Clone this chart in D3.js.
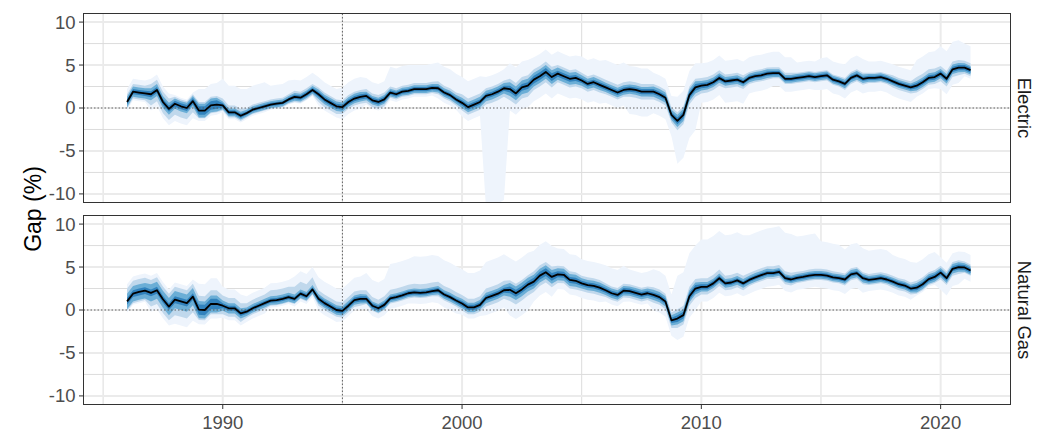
<!DOCTYPE html>
<html>
<head>
<meta charset="utf-8">
<script src="https://cdnjs.cloudflare.com/ajax/libs/d3/7.8.5/d3.min.js"></script>
<style>
  body { margin: 0; background: #fff; }
  text { font-family: "Liberation Sans", Arial, Helvetica, sans-serif; }
</style>
</head>
<body>
<div id="chart"></div>
<script>
// quarterly medians, first value is 1986 Q1
var startYear = 1986;
var stepYear = 0.25;

var electricMedian = [
  0.7, 1.9, 1.8, 1.7,   1.6, 2.1, 0.7, -0.1,  0.5, 0.2, 0.0, 0.8,   -0.3, -0.3, 0.3, 0.4,
  0.3, -0.5, -0.5, -0.9, -0.6, -0.2, 0.0, 0.2, 0.4, 0.5, 0.6, 1.0,   1.3, 1.2, 1.6, 2.1,
  1.6, 1.0, 0.6, 0.2,   0.1, 0.7, 1.1, 1.3,   1.4, 0.9, 0.7, 1.0,   1.8, 1.6, 1.9, 2.0,
  2.2, 2.2, 2.2, 2.35,  2.3, 1.8, 1.5, 1.0,   0.6, 0.1, 0.4, 0.7,   1.4, 1.6, 1.9, 2.3,
  2.2, 1.7, 2.4, 2.6,   3.3, 3.7, 4.2, 3.6,   4.0, 3.7, 3.4, 3.5,   3.2, 2.8, 3.0, 2.7,
  2.4, 2.1, 1.8, 2.1,   2.2, 2.1, 1.9, 1.9,   1.9, 1.6, 1.2, -0.8,  -1.5, -0.8, 1.5, 2.4,
  2.6, 2.7, 3.0, 3.5,   3.1, 3.2, 3.3, 3.0,   3.5, 3.7, 3.8, 4.0,   4.05, 4.05, 3.4, 3.4,
  3.5, 3.6, 3.7, 3.6,   3.7, 3.8, 3.3, 3.1,   2.8, 3.5, 3.8, 3.4,   3.5, 3.5, 3.6, 3.4,
  3.1, 2.8, 2.6, 2.4,   2.6, 3.0, 3.5, 3.6,   4.0, 3.4, 4.5, 4.7,   4.7, 4.4
];
var gasMedian = [
  1.0, 1.9, 2.1, 2.25,  2.0, 2.3, 1.25, 0.4,  1.2, 1.0, 0.8, 1.55,  0.05, 0.0, 0.7, 0.7,
  0.5, 0.2, 0.2, -0.4,  -0.2, 0.2, 0.5, 0.8,  1.1, 1.15, 1.3, 1.5,  1.3, 1.9, 1.6, 2.4,
  1.3, 0.8, 0.4, 0.0,   -0.1, 0.5, 1.15, 1.3, 1.3, 0.5, 0.2, 0.6,   1.35, 1.5, 1.7, 1.95,
  2.05, 2.0, 2.05, 2.2, 2.3, 1.8, 1.5, 1.1,   0.75, 0.3, 0.3, 0.6,  1.4, 1.65, 1.9, 2.3,
  2.35, 1.95, 2.4, 2.95, 3.3, 4.0, 4.4, 3.85, 4.15, 4.1, 3.5, 3.4,  3.1, 2.9, 2.8, 2.6,
  2.3, 1.95, 1.75, 2.25, 2.2, 2.0, 1.8, 1.95, 1.75, 1.5, 1.0, -1.2, -1.0, -0.6, 1.6, 2.5,
  2.7, 2.7, 3.1, 3.7,   3.1, 3.2, 3.45, 3.1,  3.5, 3.8, 4.05, 4.3,  4.3, 4.45, 3.7, 3.55,
  3.75, 3.85, 4.0, 4.1, 4.1, 4.0, 3.8, 3.7,   3.55, 4.15, 4.3, 3.7, 3.5, 3.6, 3.7, 3.55,
  3.3, 3.0, 2.85, 2.5,  2.6, 3.0, 3.6, 3.85,  4.35, 3.7, 4.8, 5.0,  4.95, 4.6
];

// interval offsets from the median, one value per year 1986..2021
var electricHalf50 = [0.3, 0.35, 0.35, 0.5, 0.25, 0.2, 0.2, 0.25, 0.3, 0.3, 0.3, 0.25, 0.25, 0.25, 0.3, 0.3, 0.4, 0.45,
  0.35, 0.3, 0.3, 0.3, 0.3, 0.4, 0.3, 0.25, 0.25, 0.25, 0.25, 0.25, 0.25, 0.25, 0.25, 0.3, 0.3, 0.3];
var electricHalf80 = [0.6, 0.7, 0.6, 0.8, 0.45, 0.4, 0.4, 0.45, 0.55, 0.55, 0.5, 0.45, 0.45, 0.5, 0.6, 0.6, 0.8, 0.8,
  0.7, 0.6, 0.55, 0.55, 0.6, 0.7, 0.55, 0.5, 0.5, 0.45, 0.45, 0.45, 0.5, 0.45, 0.45, 0.55, 0.55, 0.5];
var electricLo95 = [-0.8, -1.3, -1.3, -0.9, -0.6, -0.5, -0.5, -0.6, -0.9, -0.8, -0.8, -0.6, -0.6, -0.7, -0.9, -1.0, -1.3, -1.2,
  -1.0, -0.9, -0.8, -0.9, -0.9, -1.1, -0.9, -0.8, -0.7, -0.6, -0.6, -0.6, -0.7, -0.6, -0.7, -0.8, -0.9, -0.7];
var electricHi95 = [0.9, 1.2, 0.8, 1.0, 0.8, 0.6, 0.6, 0.7, 0.8, 0.8, 0.8, 0.7, 0.7, 0.8, 1.0, 0.9, 1.2, 1.2,
  1.0, 0.9, 0.9, 0.9, 0.9, 1.0, 0.9, 0.8, 0.7, 0.7, 0.6, 0.6, 0.7, 0.6, 0.7, 1.0, 0.9, 0.8];
var electricLo99 = [-1.0, -1.9, -2.0, -1.2, -0.8, -0.7, -0.6, -0.7, -1.3, -1.4, -1.0, -0.9, -0.9, -1.2, -1.6, -13, -2.5, -2.5,
  -2.3, -2.2, -1.8, -2.9, -2.5, -5.0, -2.0, -2.5, -1.8, -1.5, -1.5, -1.6, -1.7, -1.6, -1.7, -1.3, -1.8, -1.0];
var electricHi99 = [1.5, 1.8, 1.0, 2.5, 3.1, 2.8, 2.2, 2.0, 2.0, 2.3, 2.1, 3.0, 2.8, 3.0, 3.0, 2.2, 3.0, 2.6,
  2.6, 2.8, 3.2, 2.7, 2.2, 2.8, 2.6, 2.4, 2.4, 2.5, 1.8, 2.1, 2.3, 1.9, 2.0, 3.0, 3.2, 2.8];

var gasHalf50 = [0.4, 0.4, 0.4, 0.6, 0.3, 0.25, 0.25, 0.25, 0.3, 0.3, 0.3, 0.25, 0.25, 0.25, 0.3, 0.3, 0.4, 0.45,
  0.35, 0.3, 0.3, 0.3, 0.3, 0.4, 0.3, 0.25, 0.25, 0.25, 0.25, 0.25, 0.25, 0.25, 0.25, 0.3, 0.3, 0.3];
var gasHalf80 = [0.9, 1.0, 1.0, 1.0, 0.6, 0.5, 0.5, 0.5, 0.55, 0.55, 0.5, 0.45, 0.45, 0.5, 0.55, 0.6, 0.8, 0.8,
  0.7, 0.6, 0.55, 0.55, 0.6, 0.7, 0.55, 0.5, 0.5, 0.45, 0.45, 0.45, 0.5, 0.45, 0.45, 0.55, 0.55, 0.5];
var gasLo95 = [-1.1, -1.6, -1.8, -1.2, -1.0, -0.7, -0.6, -0.6, -0.8, -0.8, -0.6, -0.6, -0.6, -0.7, -0.8, -1.0, -1.3, -1.2,
  -1.0, -0.9, -0.8, -0.8, -0.9, -1.1, -0.9, -0.8, -0.7, -0.7, -0.6, -0.6, -0.7, -0.6, -0.7, -0.7, -0.8, -0.6];
var gasHi95 = [1.5, 1.5, 1.5, 1.6, 1.2, 1.0, 1.2, 1.4, 1.0, 1.0, 1.0, 1.0, 1.0, 1.0, 1.0, 1.1, 1.1, 1.2,
  1.0, 0.9, 0.8, 0.8, 0.9, 1.1, 1.0, 0.9, 0.8, 0.8, 0.7, 0.7, 0.7, 0.7, 0.7, 0.8, 0.8, 0.7];
var gasLo99 = [-1.3, -2.2, -2.8, -1.7, -1.4, -1.2, -0.8, -0.9, -1.4, -1.2, -1.2, -1.2, -1.3, -1.5, -1.3, -2.0, -3.0, -2.3,
  -1.7, -1.7, -1.3, -1.2, -1.8, -2.5, -1.7, -1.5, -1.6, -1.5, -1.4, -1.5, -1.7, -1.3, -1.3, -0.9, -2.0, -1.3];
var gasHi99 = [2.0, 2.0, 2.0, 3.0, 2.2, 1.8, 2.0, 2.6, 2.5, 2.6, 3.0, 4.0, 4.2, 4.0, 4.0, 4.2, 3.7, 3.6,
  3.0, 2.8, 2.9, 2.5, 3.0, 5.0, 5.5, 5.6, 5.2, 5.3, 4.8, 3.9, 3.5, 3.4, 3.1, 2.9, 1.8, 1.8];

var panelNames = ['Electric', 'Natural Gas'];
var yTicks = [-10, -5, 0, 5, 10];
var yMinorTicks = [-7.5, -2.5, 2.5, 7.5];
var xTicks = [1990, 2000, 2010, 2020];
var xMinorTicks = [1985, 1995, 2005, 2015];
var markerYear = 1995;

var config = {
    width: 1039,
    height: 435,
    left: 83.5,
    right: 1010.5,
    panelTops: [13.5, 215.5],
    panelHeight: 189,
    xDomain: [1984.18, 2022.92],
    yDomain: [-11, 11],
    bandColors: { b99: '#eef4fc', b95: '#c0d8ec', b80: '#6baed6', b50: '#3182bd' },
    textGrey: '#4d4d4d'
};

var panels = [
    { name: panelNames[0], median: electricMedian, w50: electricHalf50, w80: electricHalf80,
      lo95: electricLo95, hi95: electricHi95, lo99: electricLo99, hi99: electricHi99 },
    { name: panelNames[1], median: gasMedian, w50: gasHalf50, w80: gasHalf80,
      lo95: gasLo95, hi95: gasHi95, lo99: gasLo99, hi99: gasHi99 }
];

var buildRows = function(p) {
    return p.median.map(function(v, i) {
        var t = startYear + i * stepYear;
        var k = Math.floor(t) - startYear;
        return {
            t: t,
            v: v,
            b99: [v + p.lo99[k], v + p.hi99[k]],
            b95: [v + p.lo95[k], v + p.hi95[k]],
            b80: [v - p.w80[k], v + p.w80[k]],
            b50: [v - p.w50[k], v + p.w50[k]]
        };
    });
};

var svg = d3.select('#chart').append('svg')
    .attr('width', config.width)
    .attr('height', config.height);

svg.append('rect')
    .attr('width', config.width)
    .attr('height', config.height)
    .attr('fill', '#fff');

var x = d3.scaleLinear().domain(config.xDomain).range([config.left, config.right]);
var panelWidth = config.right - config.left;

panels.forEach(function(p, pi) {
    var top = config.panelTops[pi];
    var y = d3.scaleLinear().domain(config.yDomain).range([top + config.panelHeight, top]);
    var rows = buildRows(p);

    var clipId = 'clip-' + pi;
    svg.append('clipPath').attr('id', clipId)
        .append('rect')
        .attr('x', config.left).attr('y', top)
        .attr('width', panelWidth).attr('height', config.panelHeight);

    var g = svg.append('g').attr('clip-path', 'url(#' + clipId + ')');

    // grid
    g.selectAll('line.ymin').data(yMinorTicks).enter().append('line')
        .attr('x1', config.left).attr('x2', config.right)
        .attr('y1', function(d) { return y(d); }).attr('y2', function(d) { return y(d); })
        .attr('stroke', '#dcdcdc').attr('stroke-width', 1);
    g.selectAll('line.xmin').data(xMinorTicks).enter().append('line')
        .attr('y1', top).attr('y2', top + config.panelHeight)
        .attr('x1', function(d) { return x(d); }).attr('x2', function(d) { return x(d); })
        .attr('stroke', '#dcdcdc').attr('stroke-width', 1);
    g.selectAll('line.ymaj').data(yTicks).enter().append('line')
        .attr('x1', config.left).attr('x2', config.right)
        .attr('y1', function(d) { return y(d); }).attr('y2', function(d) { return y(d); })
        .attr('stroke', '#ebebeb').attr('stroke-width', 2);
    g.selectAll('line.xmaj').data(xTicks).enter().append('line')
        .attr('y1', top).attr('y2', top + config.panelHeight)
        .attr('x1', function(d) { return x(d); }).attr('x2', function(d) { return x(d); })
        .attr('stroke', '#ebebeb').attr('stroke-width', 2);

    // ribbons, widest first
    ['b99', 'b95', 'b80', 'b50'].forEach(function(key) {
        var area = d3.area()
            .x(function(d) { return x(d.t); })
            .y0(function(d) { return y(d[key][0]); })
            .y1(function(d) { return y(d[key][1]); });
        g.append('path')
            .datum(rows)
            .attr('d', area)
            .attr('fill', config.bandColors[key]);
    });

    // reference lines
    g.append('line')
        .attr('x1', config.left).attr('x2', config.right)
        .attr('y1', y(0)).attr('y2', y(0))
        .attr('stroke', '#555').attr('stroke-width', 0.9)
        .attr('stroke-dasharray', '1.5,2');
    g.append('line')
        .attr('x1', x(markerYear)).attr('x2', x(markerYear))
        .attr('y1', top).attr('y2', top + config.panelHeight)
        .attr('stroke', '#555').attr('stroke-width', 0.9)
        .attr('stroke-dasharray', '1.5,2');

    // median
    g.append('path')
        .datum(rows)
        .attr('d', d3.line().x(function(d) { return x(d.t); }).y(function(d) { return y(d.v); }))
        .attr('fill', 'none')
        .attr('stroke', '#000')
        .attr('stroke-width', 1.8)
        .attr('stroke-linejoin', 'round');

    // border
    svg.append('rect')
        .attr('x', config.left).attr('y', top)
        .attr('width', panelWidth).attr('height', config.panelHeight)
        .attr('fill', 'none').attr('stroke', '#333').attr('stroke-width', 1);

    // y axis
    var yAxis = svg.append('g');
    yAxis.selectAll('line').data(yTicks).enter().append('line')
        .attr('x1', config.left - 4.5).attr('x2', config.left)
        .attr('y1', function(d) { return y(d); }).attr('y2', function(d) { return y(d); })
        .attr('stroke', '#333').attr('stroke-width', 1);
    yAxis.selectAll('text').data(yTicks).enter().append('text')
        .attr('x', config.left - 8)
        .attr('y', function(d) { return y(d); })
        .attr('dy', '0.35em')
        .attr('text-anchor', 'end')
        .attr('font-size', 18.5)
        .attr('fill', config.textGrey)
        .text(function(d) { return d; });

    // strip label, reads top to bottom
    var sx = config.right + 14, sy = top + config.panelHeight / 2;
    svg.append('text')
        .attr('transform', 'translate(' + sx + ',' + sy + ') rotate(90)')
        .attr('text-anchor', 'middle')
        .attr('dy', '0.35em')
        .attr('font-size', 18.5)
        .attr('fill', '#1a1a1a')
        .text(p.name);

    // x axis on bottom panel only
    if(pi === panels.length - 1) {
        var base = top + config.panelHeight;
        var xAxis = svg.append('g');
        xAxis.selectAll('line').data(xTicks).enter().append('line')
            .attr('x1', function(d) { return x(d); }).attr('x2', function(d) { return x(d); })
            .attr('y1', base).attr('y2', base + 4.5)
            .attr('stroke', '#333').attr('stroke-width', 1);
        xAxis.selectAll('text').data(xTicks).enter().append('text')
            .attr('x', function(d) { return x(d); })
            .attr('y', base + 18)
            .attr('dy', '0.35em')
            .attr('text-anchor', 'middle')
            .attr('font-size', 18.5)
            .attr('fill', config.textGrey)
            .text(function(d) { return d; });
    }
});

// y title
svg.append('text')
    .attr('transform', 'translate(' + 33 + ',' + (config.panelTops[0] + (config.panelTops[1] + config.panelHeight - config.panelTops[0]) / 2) + ') rotate(-90)')
    .attr('text-anchor', 'middle')
    .attr('dy', '0.35em')
    .attr('font-size', 23)
    .attr('fill', '#000')
    .text('Gap (%)');
</script>
</body>
</html>
